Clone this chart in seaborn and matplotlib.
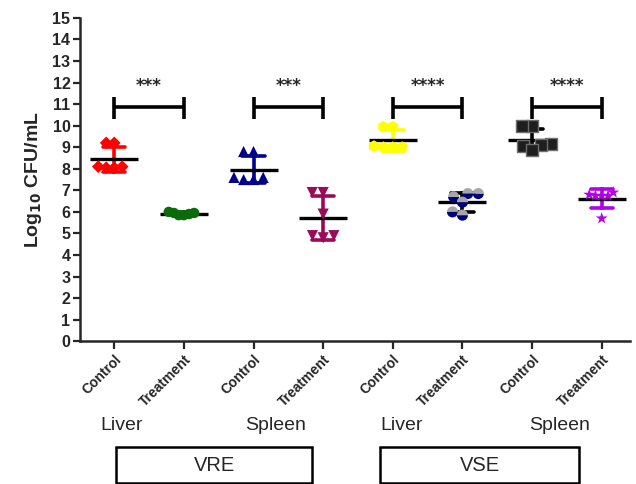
import seaborn as sns
import pandas as pd
import numpy as np
import matplotlib.pyplot as plt
from matplotlib.markers import MarkerStyle
from matplotlib.patches import Rectangle

# groups along the x axis
groups = ["VRE Liver Control", "VRE Liver Treatment", "VRE Spleen Control", "VRE Spleen Treatment",
          "VSE Liver Control", "VSE Liver Treatment", "VSE Spleen Control", "VSE Spleen Treatment"]
tick_labels = ["Control", "Treatment"] * 4

# log10 CFU/mL, six animals per group
vre_liver_ctrl = [9.2, 9.2, 8.1, 8.05, 8.1, 8.05]
vre_liver_trt = [5.95, 5.85, 6.0, 5.85, 5.9, 5.95]
vre_spleen_ctrl = [8.8, 8.8, 7.6, 7.5, 7.5, 7.6]
vre_spleen_trt = [6.9, 6.9, 5.9, 4.9, 4.9, 4.8]
vse_liver_ctrl = [9.95, 9.95, 9.0, 9.0, 9.05, 9.0]
vse_liver_trt = [6.85, 6.45, 6.7, 5.85, 6.85, 6.0]
vse_spleen_ctrl = [10.0, 10.0, 9.15, 9.05, 9.1, 8.85]
vse_spleen_trt = [6.8, 6.75, 6.75, 6.75, 6.9, 5.7]

# significance brackets: (left group, right group, label)
brackets = [(0, 1, "***"), (2, 3, "***"), (4, 5, "****"), (6, 7, "****")]
bracket_y = 10.85

organ_labels = [(0.11, "Liver"), (2.31, "Spleen"), (4.12, "Liver"), (6.39, "Spleen")]
strain_boxes = [(0.03, 2.84, "VRE"), (3.82, 6.67, "VSE")]

all_values = [vre_liver_ctrl, vre_liver_trt, vre_spleen_ctrl, vre_spleen_trt,
              vse_liver_ctrl, vse_liver_trt, vse_spleen_ctrl, vse_spleen_trt]
df = pd.DataFrame({
    "group": np.repeat(groups, [len(v) for v in all_values]),
    "cfu": np.concatenate(all_values),
})

bar_colors = ["#ff0000", "#0b6b0b", "#00008b", "#9b0a57", "#ffff00", "#000000", "#000000", "#b400e6"]

sns.set_style("ticks")
plt.rcParams["font.family"] = ["Liberation Sans", "DejaVu Sans"]

fig = plt.figure(figsize=(6.36, 4.84), dpi=100)
ax = fig.add_axes([0.126, 0.295, 0.865, 0.668])

# scatter points, one style per group; "pack" is the size used to lay out
# the swarm (smaller than the drawn marker, so points overlap like in Prism)
styles = [
    dict(marker="D", color="#ff0000", size=6.5, pack=5.5, edgecolor="none"),
    dict(marker="o", color="#0b6b0b", size=7.5, pack=3.6, edgecolor="none"),
    dict(marker="^", color="#00008b", size=8, pack=6.8, edgecolor="none"),
    dict(marker="v", color="#9b0a57", size=8, pack=7.5, edgecolor="none"),
    dict(marker="h", color="#ffff00", size=8.5, pack=6.5, edgecolor="none"),
    None,
    dict(marker="s", color="#1e1e1e", size=8, pack=6.0, edgecolor="#6e6e6e", linewidth=1),
    dict(marker="*", color="#b400e6", size=9, pack=4.3, edgecolor="none"),
]


def swarm(sub, big, **kw):
    n = len(ax.collections)
    sns.swarmplot(data=sub, x="group", y="cfu", order=groups, ax=ax, **kw)
    for coll in ax.collections[n:]:
        if len(coll.get_offsets()) > 0:
            swarms.append((coll, big))


swarms = []
for i, g in enumerate(groups):
    sub = df[df["group"] == g]
    if styles[i] is None:
        # half-filled circles: navy bottom, grey top
        for fs, c in [("bottom", "#000080"), ("top", "#a6a6a6")]:
            swarm(sub, 8, size=7.2, marker=MarkerStyle("o", fillstyle=fs), color=c, edgecolor="none")
    else:
        kw = dict(styles[i])
        big = kw.pop("size")
        small = kw.pop("pack")
        swarm(sub, big, size=small, **kw)

# mean +/- SD
sns.pointplot(data=df, x="group", y="cfu", order=groups, hue="group", hue_order=groups,
              palette=bar_colors, errorbar="sd", capsize=0.32, marker="", linestyle="none",
              err_kws={"linewidth": 2.6}, legend=False, ax=ax)
sns.pointplot(data=df, x="group", y="cfu", order=groups, color="black", errorbar=None,
              marker="_", markersize=34, markeredgewidth=2.4, linestyle="none", ax=ax)

# significance brackets
for a, b, lab in brackets:
    ax.plot([a, b], [bracket_y, bracket_y], color="black", lw=2.6, solid_capstyle="butt")
    ax.plot([a, a], [bracket_y - 0.55, bracket_y + 0.5], color="black", lw=2.6, solid_capstyle="butt")
    ax.plot([b, b], [bracket_y - 0.55, bracket_y + 0.5], color="black", lw=2.6, solid_capstyle="butt")
    ax.text((a + b) / 2, bracket_y + 1.0, lab, ha="center", va="center", fontsize=12,
            fontweight="bold", family="DejaVu Sans")

ax.set_ylim(0, 15)
ax.set_xlim(-0.49, 7.41)
ax.set_yticks(range(0, 16))
ax.set_yticklabels([str(v) for v in range(0, 16)], fontsize=11.5, fontweight="bold")
ax.set_xticks(range(len(groups)))
ax.set_xticklabels(tick_labels, rotation=45, ha="right", rotation_mode="anchor",
                   fontsize=10, fontweight="bold")
ax.set_xlabel("")
ax.set_ylabel(r"Log$_{\mathbf{10}}$ CFU/mL", fontsize=14, fontweight="bold", labelpad=6)
ax.tick_params(axis="both", width=1.6, length=5, pad=2)
ax.tick_params(axis="x", length=6)
sns.despine(ax=ax)
for s in ["left", "bottom"]:
    ax.spines[s].set_linewidth(1.8)

# organ labels and strain boxes below the axis
tr = ax.get_xaxis_transform()
for x, lab in organ_labels:
    ax.text(x, -0.262, lab, transform=tr, ha="center", va="center", fontsize=14, clip_on=False)
for x0, x1, lab in strain_boxes:
    ax.add_patch(Rectangle((x0, -0.44), x1 - x0, 0.112, transform=tr, fill=False,
                           edgecolor="black", lw=1.8, clip_on=False))
    ax.text((x0 + x1) / 2, -0.384, lab, transform=tr, ha="center", va="center", fontsize=14.5,
            clip_on=False)

# lay the swarms out with the packing size, then draw the markers full size
fig.canvas.draw()
for coll, big in swarms:
    if "draw" in coll.__dict__:
        del coll.draw
    coll.set_sizes([big ** 2])

fig.savefig("out.png", dpi=100)
